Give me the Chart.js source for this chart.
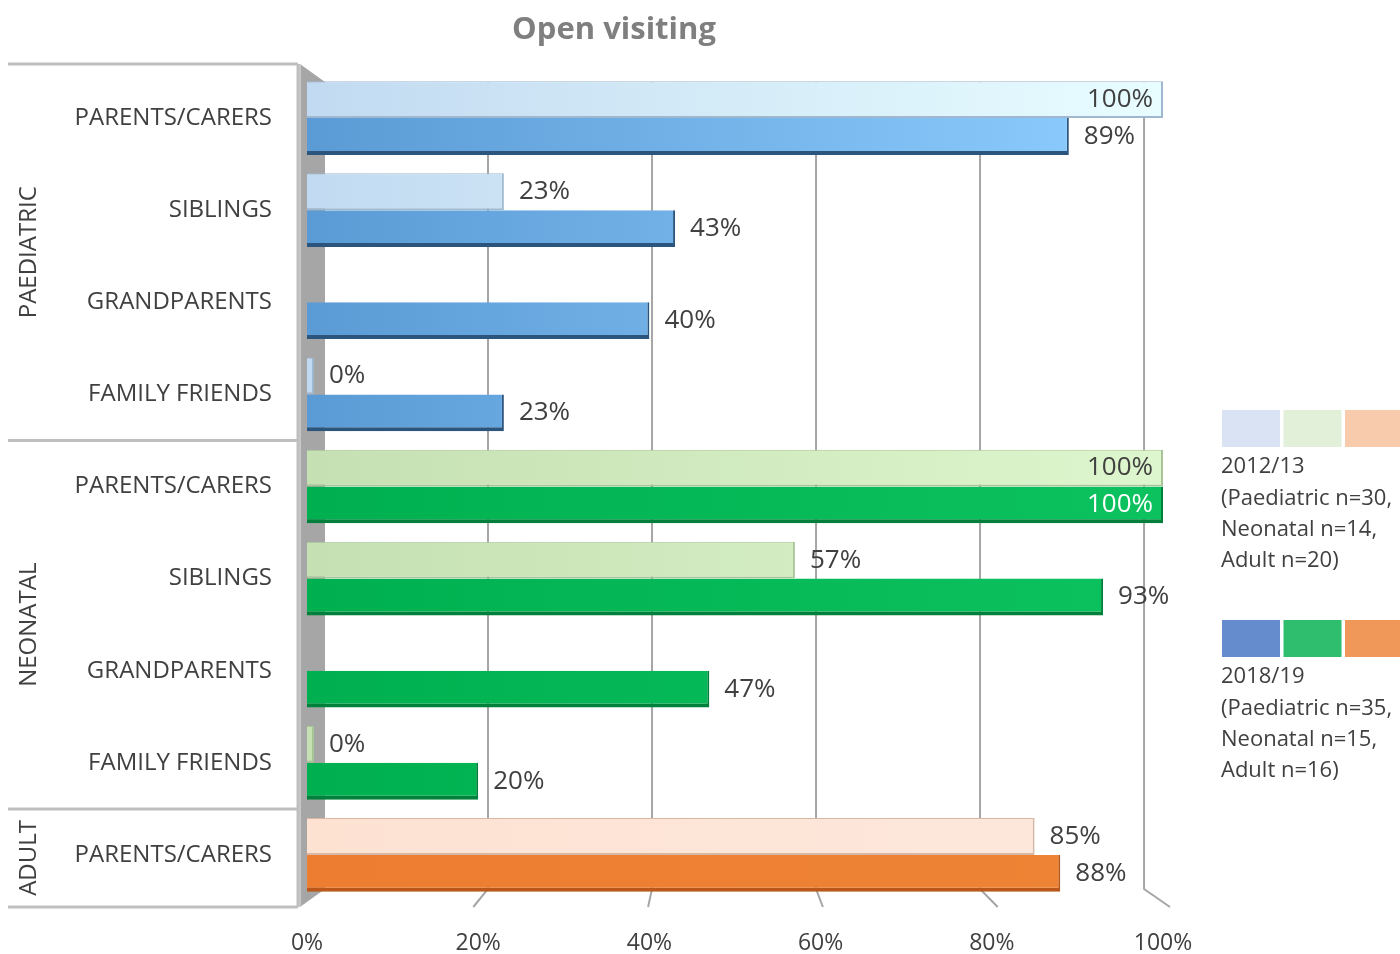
<!DOCTYPE html>
<html>
<head>
<meta charset="utf-8">
<script src="https://cdn.jsdelivr.net/npm/chart.js@4.4.1/dist/chart.umd.min.js"></script>
<style>
  html, body { margin: 0; padding: 0; background: #fff; }
  #wrap { width: 1400px; height: 954px; }
</style>
</head>
<body>
<div id="wrap"><canvas id="visitChart" width="1400" height="954"></canvas></div>
<script>
// chart data
const categories = ['PARENTS/CARERS', 'SIBLINGS', 'GRANDPARENTS', 'FAMILY FRIENDS',
                    'PARENTS/CARERS', 'SIBLINGS', 'GRANDPARENTS', 'FAMILY FRIENDS',
                    'PARENTS/CARERS'];
const groupNames = ['PAEDIATRIC', 'NEONATAL', 'ADULT'];
const groupSizes = [4, 4, 1];
const values2012 = [100, 23, null, 0, 100, 57, null, 0, 85];
const values2018 = [89, 43, 40, 23, 100, 93, 47, 20, 88];
const xTicks = [0, 20, 40, 60, 80, 100];
const legend2012 = ['2012/13', '(Paediatric n=30,', 'Neonatal n=14,', 'Adult n=20)'];
const legend2018 = ['2018/19', '(Paediatric n=35,', 'Neonatal n=15,', 'Adult n=16)'];

const textColor = '#404040';
const font = '"Open Sans", "DejaVu Sans", sans-serif';

// group index for each category
const groupOf = [];
groupSizes.forEach(function(n, g) { for (let i = 0; i < n; i++) groupOf.push(g); });

const lightGrad = [['#c2daf1', '#e8fdff'], ['#c5e0b3', '#def6cd'], ['#fde2d2', '#fde8dd']];
const darkGrad  = [['#5b9bd5', '#8fceff'], ['#00b050', '#0cc25f'], ['#ed7d31', '#ee8435']];
const lightEdge = ['#9fb8cf', '#a8c598', '#d8b8a4'];
const darkEdge  = ['#2b557c', '#00803a', '#b9581a'];
const legendLight = ['#dae3f3', '#e2f0d9', '#f8cbad'];
const legendDark  = ['#658ccd', '#2fbe6e', '#f0985a'];

function gradFor(stops) {
    return function(ctx) {
        const chart = ctx.chart;
        const area = chart.chartArea;
        const pair = stops[groupOf[ctx.dataIndex]];
        if (!area) return pair[0];
        const g = chart.ctx.createLinearGradient(area.left, 0, area.right, 0);
        g.addColorStop(0, pair[0]);
        g.addColorStop(1, pair[1]);
        return g;
    };
}

// 3d-ish walls, back grid, group labels, legend and title
const decorPlugin = {
    id: 'decor',
    beforeDatasetsDraw(chart) {
        const c = chart.ctx;
        const a = chart.chartArea;
        const x = chart.scales.x;
        const backTop = a.top + 10, backBottom = a.bottom - 12;
        const toBack = function(px) { return 29.9 + 0.958 * px; };
        c.save();
        // side wall
        c.fillStyle = '#a6a6a6';
        c.beginPath();
        c.moveTo(300, a.top - 8);
        c.lineTo(325, backTop);
        c.lineTo(325, backBottom);
        c.lineTo(300, a.bottom + 6);
        c.closePath();
        c.fill();
        c.fillStyle = '#c8c8c8';
        c.fillRect(298, a.top - 8, 3, a.bottom - a.top + 14);
        // back grid lines
        c.strokeStyle = '#a6a6a6';
        c.lineWidth = 2;
        xTicks.forEach(function(v) {
            if (v === 0) return;
            const bx = toBack(x.getPixelForValue(v));
            const fx = x.getPixelForValue(v);
            c.beginPath();
            c.moveTo(bx, backTop);
            c.lineTo(bx, backBottom);
            c.lineTo(v === 100 ? fx + 7 : fx + (fx - bx) * 0.5, a.bottom + 6);
            c.stroke();
        });
        c.restore();
    },
    afterDraw(chart) {
        const c = chart.ctx;
        const a = chart.chartArea;
        const y = chart.scales.y;
        c.save();
        // title
        c.fillStyle = '#7f7f7f';
        c.font = 'bold 31px ' + font;
        c.textAlign = 'center';
        c.textBaseline = 'middle';
        c.fillText('Open visiting', 614, 30);

        // group separators and labels
        const top = a.top - 8, bottom = a.bottom + 6;
        c.strokeStyle = '#bfbfbf';
        c.lineWidth = 3;
        c.beginPath();
        c.moveTo(8, top); c.lineTo(298, top);
        c.moveTo(298, top); c.lineTo(298, bottom);
        c.moveTo(8, bottom); c.lineTo(298, bottom);
        let start = 0;
        const bounds = [];
        groupSizes.forEach(function(n, g) {
            const end = start + n - 1;
            const y0 = start === 0 ? top : (y.getPixelForValue(start - 1) + y.getPixelForValue(start)) / 2;
            const y1 = end === categories.length - 1 ? bottom : (y.getPixelForValue(end) + y.getPixelForValue(end + 1)) / 2;
            bounds.push([y0, y1]);
            if (start > 0) { c.moveTo(8, y0); c.lineTo(298, y0); }
            start += n;
        });
        c.stroke();

        c.fillStyle = textColor;
        c.font = '24px ' + font;
        bounds.forEach(function(b, g) {
            c.save();
            c.translate(29, (b[0] + b[1]) / 2);
            c.rotate(-Math.PI / 2);
            c.textAlign = 'center';
            c.textBaseline = 'middle';
            c.fillText(groupNames[g], 0, 0);
            c.restore();
        });

        // legend
        const boxW = 58, boxGap = 3.5, lx = 1222;
        function legendBlock(colors, lines, boxTop) {
            colors.forEach(function(col, i) {
                c.fillStyle = col;
                c.fillRect(lx + i * (boxW + boxGap), boxTop, boxW, 37);
            });
            c.fillStyle = textColor;
            c.font = '22px ' + font;
            c.textAlign = 'left';
            c.textBaseline = 'middle';
            lines.forEach(function(t, i) {
                c.fillText(t, lx - 1, boxTop + 57 + i * 31.3);
            });
        }
        legendBlock(legendLight, legend2012, 410);
        legendBlock(legendDark, legend2018, 620);
        c.restore();
    }
};

// value labels next to bar ends
const valueLabels = {
    id: 'valueLabels',
    afterDatasetsDraw(chart) {
        const c = chart.ctx;
        c.save();
        c.font = '26px ' + font;
        c.textBaseline = 'middle';
        chart.data.datasets.forEach(function(ds, di) {
            const meta = chart.getDatasetMeta(di);
            meta.data.forEach(function(bar, i) {
                const v = ds.data[i];
                if (v === null || v === undefined) return;
                const txt = v + '%';
                if (v >= 100) {
                    c.textAlign = 'right';
                    c.fillStyle = di === 1 ? '#ffffff' : textColor;
                    c.fillText(txt, bar.x - 10, bar.y);
                } else {
                    c.textAlign = 'left';
                    c.fillStyle = textColor;
                    c.fillText(txt, Math.max(bar.x, chart.chartArea.left + 6) + 15, bar.y);
                }
            });
        });
        c.restore();
    }
};

const ctx = document.getElementById('visitChart').getContext('2d');
const visitChart = new Chart(ctx, {
    type: 'bar',
    data: {
        labels: categories,
        datasets: [{
            label: '2012/13',
            data: values2012,
            backgroundColor: gradFor(lightGrad),
            borderColor: function(ctx) { return lightEdge[groupOf[ctx.dataIndex]]; },
            borderWidth: { top: 1, right: 2, bottom: 2, left: 0 },
            borderSkipped: false,
            minBarLength: 7
        }, {
            label: '2018/19',
            data: values2018,
            backgroundColor: gradFor(darkGrad),
            borderColor: function(ctx) { return darkEdge[groupOf[ctx.dataIndex]]; },
            borderWidth: { top: 0, right: 2, bottom: 4, left: 0 },
            borderSkipped: false
        }]
    },
    options: {
        indexAxis: 'y',
        responsive: false,
        animation: false,
        layout: { padding: { top: 72, right: 237, bottom: 0, left: 0 } },
        datasets: { bar: { categoryPercentage: 0.8, barPercentage: 1.0 } },
        plugins: {
            legend: { display: false },
            title: { display: false },
            tooltip: { enabled: false }
        },
        scales: {
            x: {
                min: 0,
                max: 100,
                afterFit: function(scale) { scale.height = 53; },
                afterBuildTicks: function(scale) {
                    scale.ticks = xTicks.map(function(v) { return { value: v }; });
                },
                grid: { display: false, drawTicks: false },
                border: { display: false },
                ticks: {
                    padding: 29,
                    color: textColor,
                    font: { family: font, size: 23 },
                    callback: function(value) { return value + '%'; }
                }
            },
            y: {
                afterFit: function(scale) { scale.width = 307; },
                grid: { display: false, drawTicks: false },
                border: { display: false },
                ticks: {
                    padding: 35,
                    color: textColor,
                    font: { family: font, size: 24 }
                }
            }
        }
    },
    plugins: [decorPlugin, valueLabels]
});
</script>
</body>
</html>
